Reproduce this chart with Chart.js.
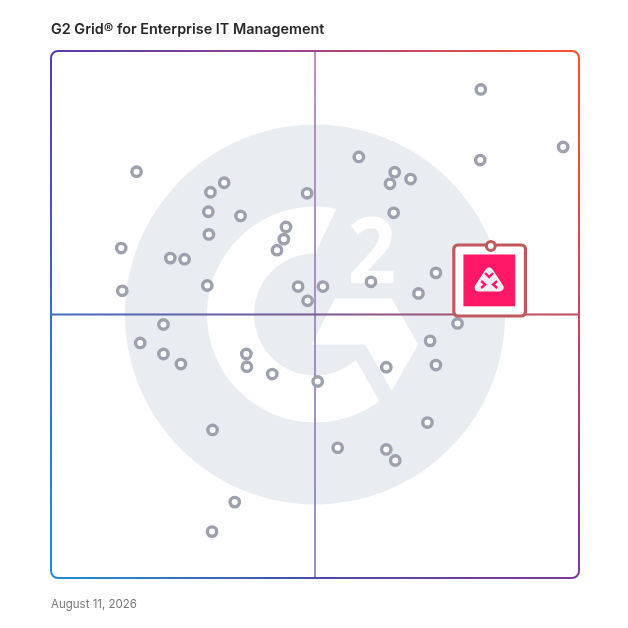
<!DOCTYPE html>
<html>
<head>
<meta charset="utf-8">
<script src="https://cdn.jsdelivr.net/npm/chart.js@4.4.1/dist/chart.umd.min.js"></script>
<style>
  html, body { margin: 0; padding: 0; background: #fff; }
  #wrap { position: relative; width: 628px; height: 628px; }
  #title { position: absolute; left: 51px; top: 20px; font: 600 14.4px "Inter", "Lato", sans-serif; color: #262626; line-height: 18px; }
  #date { position: absolute; left: 51px; top: 597px; font: 400 11.5px "Inter", "Lato", sans-serif; color: #777; line-height: 14px; }
  canvas { position: absolute; left: 0; top: 0; }
</style>
</head>
<body>
<div id="wrap">
  <canvas id="grid" width="628" height="628"></canvas>
  <div id="title">G2 Grid® for Enterprise IT Management</div>
  <div id="date">August 11, 2026</div>
</div>
<script>
// market presence (x) and satisfaction (y), 0-100
const productX = [16.2, 32.8, 30.2, 48.5, 29.8, 35.9, 44.5, 44.1, 42.8, 13.3, 22.6, 25.3, 29.9, 13.5, 29.6, 46.8, 48.6,
                  81.4, 97.0, 81.3, 58.3, 65.1, 68.1, 64.2, 64.9, 72.9, 60.6, 51.5, 69.6,
                  21.3, 16.9, 21.3, 24.6, 37.0, 37.1, 41.9, 50.5, 63.5, 71.8, 72.9, 77.0, 71.3, 30.6, 54.3, 63.5, 65.2, 34.8, 30.5];
const productY = [77.1, 75.0, 73.2, 73.0, 69.5, 68.7, 66.6, 64.3, 62.2, 62.6, 60.7, 60.5, 65.2, 54.5, 55.5, 55.3, 52.6,
                  92.7, 81.8, 79.3, 79.9, 77.0, 75.7, 74.8, 69.3, 57.9, 56.2, 55.3, 54.0,
                  48.1, 44.6, 42.5, 40.6, 42.5, 40.1, 38.7, 37.3, 40.0, 45.0, 40.4, 48.3, 29.5, 28.1, 24.7, 24.4, 22.3, 14.4, 8.8];
const highlightX = [83.3];
const highlightY = [63.0];
const midValue = 50;

var points = productX.map(function (x, i) { return { x: x, y: productY[i] }; });
var highlight = highlightX.map(function (x, i) { return { x: x, y: highlightY[i] }; });

//watermark, quadrant lines and frame
var gridPlugin = {
    id: "g2grid",
    beforeDatasetsDraw: function (chart) {
        var ctx = chart.ctx;
        var a = chart.chartArea;
        var cx = chart.scales.x.getPixelForValue(midValue);
        var cy = chart.scales.y.getPixelForValue(midValue);
        var s = (a.right - a.left) / 528;
        ctx.save();
        // grey disk
        ctx.fillStyle = "#e9ecf0";
        ctx.beginPath();
        ctx.arc(cx, cy, 190 * s, 0, Math.PI * 2);
        ctx.fill();
        // white G
        ctx.fillStyle = "#ffffff";
        ctx.beginPath();
        var r1 = 108 * s, r2 = 61 * s;
        var a1 = Math.atan2(-107.3, 21.7), a2 = Math.atan2(87.7, 65);
        var b1 = Math.atan2(46, 41.7), b2 = -Math.PI / 2;
        ctx.moveTo(cx + r1 * Math.cos(a1), cy + r1 * Math.sin(a1));
        ctx.arc(cx, cy, r1, a1, a2, true);
        ctx.lineTo(cx + r2 * Math.cos(b1), cy + r2 * Math.sin(b1));
        ctx.arc(cx, cy, r2, b1, b2, false);
        ctx.closePath();
        ctx.fill();
        // chevron bar
        ctx.beginPath();
        ctx.moveTo(cx + 20 * s, cy - 16 * s);
        ctx.lineTo(cx + 76.7 * s, cy - 16 * s);
        ctx.lineTo(cx + 103.3 * s, cy + 30 * s);
        ctx.lineTo(cx + 76.7 * s, cy + 76 * s);
        ctx.lineTo(cx + 50 * s, cy + 30 * s);
        ctx.lineTo(cx - 3.3 * s, cy + 30 * s);
        ctx.closePath();
        ctx.fill();
        // the 2
        ctx.font = "bold " + (92 * s) + "px 'Open Sans', sans-serif";
        ctx.textAlign = "center";
        ctx.textBaseline = "alphabetic";
        ctx.save();
        ctx.translate(cx + 57 * s, cy - 31.5 * s);
        ctx.scale(0.92, 1);
        ctx.fillText("2", 0, 0);
        ctx.restore();

        // quadrant lines
        ctx.lineWidth = 1.8;
        var gv = ctx.createLinearGradient(0, a.top, 0, a.bottom);
        gv.addColorStop(0, "#b386b6");
        gv.addColorStop(1, "#8a84c6");
        ctx.strokeStyle = gv;
        ctx.beginPath();
        ctx.moveTo(cx, a.top);
        ctx.lineTo(cx, a.bottom);
        ctx.stroke();
        var gh = ctx.createLinearGradient(a.left, 0, a.right, 0);
        gh.addColorStop(0, "#3f6cbf");
        gh.addColorStop(0.5, "#7b5896");
        gh.addColorStop(1, "#cb4858");
        ctx.strokeStyle = gh;
        ctx.beginPath();
        ctx.moveTo(a.left, cy);
        ctx.lineTo(a.right, cy);
        ctx.stroke();

        // frame
        var g = ctx.createConicGradient(0, cx, cy);
        g.addColorStop(0, "#c9455e");
        g.addColorStop(0.125, "#7a3a98");
        g.addColorStop(0.25, "#4a49ab");
        g.addColorStop(0.375, "#1f8dd7");
        g.addColorStop(0.5, "#3b6cc0");
        g.addColorStop(0.625, "#5a3da8");
        g.addColorStop(0.75, "#a2408a");
        g.addColorStop(0.875, "#ff5030");
        g.addColorStop(1, "#c9455e");
        ctx.strokeStyle = g;
        ctx.lineWidth = 2;
        ctx.beginPath();
        ctx.roundRect(a.left, a.top, a.right - a.left, a.bottom - a.top, 7);
        ctx.stroke();
        ctx.restore();
    },
    afterDatasetDraw: function (chart, args) {
        if (args.index !== 1) return;
        var el = chart.getDatasetMeta(0).data[0];
        if (!el) return;
        var ctx = chart.ctx;
        var x = el.x - 1.2, y = el.y;
        ctx.save();
        ctx.fillStyle = "#ffffff";
        ctx.strokeStyle = "#c0585c";
        ctx.lineWidth = 3.2;
        ctx.beginPath();
        ctx.roundRect(x - 35.8, y - 1, 71.6, 71, 4);
        ctx.fill();
        ctx.stroke();
        // product logo
        ctx.fillStyle = "#ff1768";
        ctx.fillRect(x - 26.2, y + 8.5, 51.8, 51.8);
        var lx = x - 0.5, ly = y + 35;
        ctx.fillStyle = "#f3eef0";
        ctx.strokeStyle = "#f3eef0";
        ctx.lineJoin = "round";
        ctx.lineWidth = 8;
        ctx.beginPath();
        ctx.moveTo(lx, ly - 9.5);
        ctx.lineTo(lx + 10.5, ly + 6.5);
        ctx.lineTo(lx - 10.5, ly + 6.5);
        ctx.closePath();
        ctx.fill();
        ctx.stroke();
        ctx.strokeStyle = "#ff1768";
        ctx.lineWidth = 2.4;
        ctx.lineJoin = "miter";
        ctx.lineCap = "butt";
        ctx.beginPath();
        ctx.moveTo(lx - 4, ly - 8); ctx.lineTo(lx, ly - 4); ctx.lineTo(lx + 4, ly - 8);
        ctx.moveTo(lx - 8, ly); ctx.lineTo(lx - 4, ly + 3.5); ctx.lineTo(lx - 8, ly + 7);
        ctx.moveTo(lx + 8, ly); ctx.lineTo(lx + 4, ly + 3.5); ctx.lineTo(lx + 8, ly + 7);
        ctx.stroke();
        ctx.restore();
    }
};

new Chart("grid", {
    type: "scatter",
    data: {
        datasets: [
            {
                label: "Highlighted product",
                data: highlight,
                pointRadius: 4.4,
                pointHoverRadius: 4.4,
                pointBorderWidth: 3,
                pointBackgroundColor: "#ffffff",
                pointBorderColor: "#c0585c",
            },
            {
                label: "Products",
                data: points,
                pointRadius: 4.7,
                pointHoverRadius: 4.7,
                pointBorderWidth: 3.4,
                pointBackgroundColor: "#ffffff",
                pointBorderColor: "#9ca1ad",
            },
        ]
    },
    options: {
        responsive: false,
        animation: false,
        clip: false,
        layout: { padding: { left: 51, top: 51, right: 49, bottom: 50 } },
        scales: {
            x: { min: 0, max: 100, display: false },
            y: { min: 0, max: 100, display: false }
        },
        plugins: {
            legend: { display: false },
            tooltip: { enabled: false }
        }
    },
    plugins: [gridPlugin]
});
</script>
</body>
</html>
